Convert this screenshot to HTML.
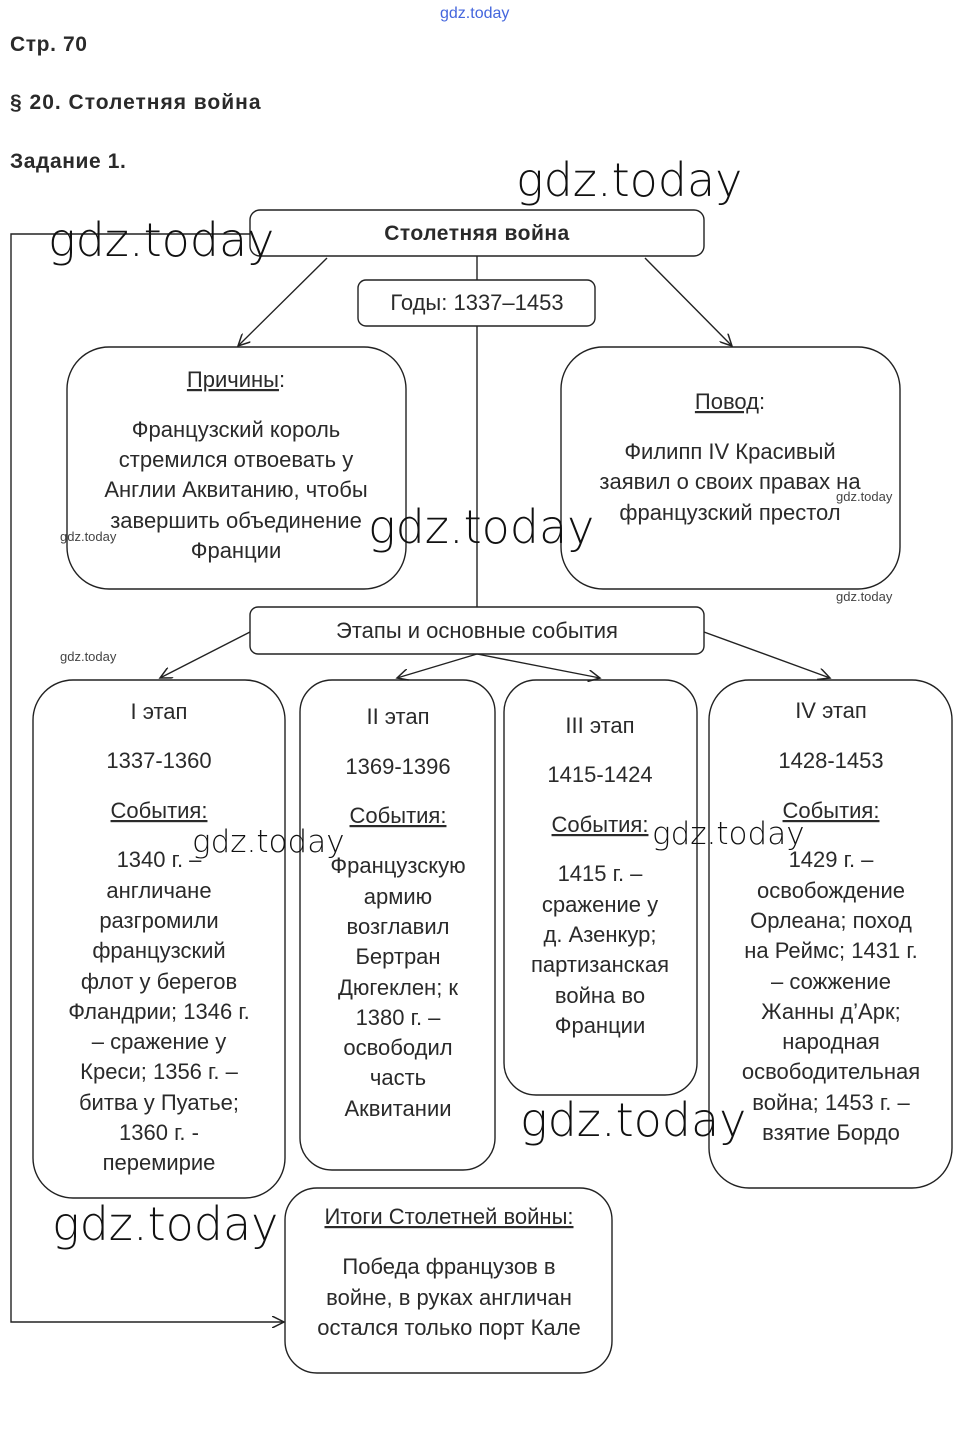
<!DOCTYPE html>
<html><head><meta charset="utf-8"><style>
html,body{margin:0;padding:0;background:#fff;}
svg{display:block;}
text{font-family:"Liberation Sans",Arial,sans-serif;fill:#2a2a2a;}
.t{font-size:22px;text-anchor:middle;}
.u{text-decoration:underline;}
.w{font-size:46px;fill:#111;font-family:"DejaVu Sans","Liberation Sans",sans-serif;font-weight:200;}
.ws{font-size:13px;fill:#444;}
</style></head><body>
<svg width="961" height="1433" viewBox="0 0 961 1433" xmlns="http://www.w3.org/2000/svg">
<defs><marker id="a" markerWidth="14" markerHeight="12" refX="12" refY="6" orient="auto" markerUnits="userSpaceOnUse"><path d="M0,0 L12,6 L0,12" fill="none" stroke="#222" stroke-width="1.5"/></marker></defs>
<text x="440" y="18" style="font-size:16px;fill:#4466dd">gdz.today</text>
<text x="10" y="51" style="font-size:21px;font-weight:bold;letter-spacing:0.6px">Стр. 70</text>
<text x="10" y="109" style="font-size:21px;font-weight:bold;letter-spacing:1px">§ 20. Столетняя война</text>
<text x="10" y="168" style="font-size:21px;font-weight:bold;letter-spacing:0.6px">Задание 1.</text>
<g fill="none" stroke="#222" stroke-width="1.4">
<rect x="250" y="210" width="454" height="46" rx="10"/>
<rect x="358" y="280" width="237" height="46" rx="8"/>
<line x1="477" y1="256" x2="477" y2="280"/><line x1="477" y1="326" x2="477" y2="607"/>
<rect x="67" y="347" width="339" height="242" rx="42"/>
<rect x="561" y="347" width="339" height="242" rx="42"/>
<rect x="250" y="607" width="454" height="47" rx="8"/>
<rect x="33" y="680" width="252" height="518" rx="40"/>
<rect x="300" y="680" width="195" height="490" rx="32"/>
<rect x="504" y="680" width="193" height="415" rx="32"/>
<rect x="709" y="680" width="243" height="508" rx="40"/>
<rect x="285" y="1188" width="327" height="185" rx="32"/>
<line x1="327" y1="258" x2="238" y2="346" marker-end="url(#a)"/>
<line x1="645" y1="258" x2="732" y2="346" marker-end="url(#a)"/>
<line x1="250" y1="632" x2="160" y2="678" marker-end="url(#a)"/>
<line x1="477" y1="654" x2="397" y2="678" marker-end="url(#a)"/>
<line x1="477" y1="654" x2="600" y2="678" marker-end="url(#a)"/>
<line x1="704" y1="632" x2="830" y2="678" marker-end="url(#a)"/>
<polyline points="250,234 11,234 11,1322 284,1322" marker-end="url(#a)"/>
</g>
<text x="477" y="240" class="t" style="font-weight:bold;font-size:21px;letter-spacing:0.5px">Столетняя война</text>
<text x="477" y="310" class="t">Годы: 1337–1453</text>
<g class="t">
<text x="236" y="387"><tspan class="u">Причины</tspan>:</text>
<text x="236" y="437">Французский король</text>
<text x="236" y="467">стремился отвоевать у</text>
<text x="236" y="497">Англии Аквитанию, чтобы</text>
<text x="236" y="528">завершить объединение</text>
<text x="236" y="558">Франции</text>
<text x="730" y="409"><tspan class="u">Повод</tspan>:</text>
<text x="730" y="459">Филипп IV Красивый</text>
<text x="730" y="489">заявил о своих правах на</text>
<text x="730" y="520">французский престол</text>
<text x="477" y="638">Этапы и основные события</text>
</g>
<g class="t">
<text x="159" y="719">I этап</text><text x="159" y="768">1337-1360</text><text x="159" y="818" class="u">События:</text>
<text x="159" y="867">1340 г. –</text><text x="159" y="898">англичане</text><text x="159" y="928">разгромили</text><text x="159" y="958">французский</text><text x="159" y="989">флот у берегов</text><text x="159" y="1019">Фландрии; 1346 г.</text><text x="159" y="1049">– сражение у</text><text x="159" y="1079">Креси; 1356 г. –</text><text x="159" y="1110">битва у Пуатье;</text><text x="159" y="1140">1360 г. -</text><text x="159" y="1170">перемирие</text>
</g>
<g class="t">
<text x="398" y="724">II этап</text><text x="398" y="774">1369-1396</text><text x="398" y="823" class="u">События:</text>
<text x="398" y="873">Французскую</text><text x="398" y="904">армию</text><text x="398" y="934">возглавил</text><text x="398" y="964">Бертран</text><text x="398" y="995">Дюгеклен; к</text><text x="398" y="1025">1380 г. –</text><text x="398" y="1055">освободил</text><text x="398" y="1085">часть</text><text x="398" y="1116">Аквитании</text>
</g>
<g class="t">
<text x="600" y="733">III этап</text><text x="600" y="782">1415-1424</text><text x="600" y="832" class="u">События:</text>
<text x="600" y="881">1415 г. –</text><text x="600" y="912">сражение у</text><text x="600" y="942">д. Азенкур;</text><text x="600" y="972">партизанская</text><text x="600" y="1003">война во</text><text x="600" y="1033">Франции</text>
</g>
<g class="t">
<text x="831" y="718">IV этап</text><text x="831" y="768">1428-1453</text><text x="831" y="818" class="u">События:</text>
<text x="831" y="867">1429 г. –</text><text x="831" y="898">освобождение</text><text x="831" y="928">Орлеана; поход</text><text x="831" y="958">на Реймс; 1431 г.</text><text x="831" y="989">– сожжение</text><text x="831" y="1019">Жанны д’Арк;</text><text x="831" y="1049">народная</text><text x="831" y="1079">освободительная</text><text x="831" y="1110">война; 1453 г. –</text><text x="831" y="1140">взятие Бордо</text>
</g>
<g class="t">
<text x="449" y="1224" class="u">Итоги Столетней войны:</text>
<text x="449" y="1274">Победа французов в</text><text x="449" y="1305">войне, в руках англичан</text><text x="449" y="1335">остался только порт Кале</text>
</g>
<text x="516" y="196" class="w">gdz.today</text>
<text x="48" y="256" class="w">gdz.today</text>
<text x="368" y="543" class="w">gdz.today</text>
<text x="192" y="852" style="font-size:31px" class="w">gdz.today</text>
<text x="652" y="844" style="font-size:31px" class="w">gdz.today</text>
<text x="520" y="1136" class="w">gdz.today</text>
<text x="52" y="1240" class="w">gdz.today</text>
<text x="60" y="541" class="ws">gdz.today</text>
<text x="60" y="661" class="ws">gdz.today</text>
<text x="836" y="501" class="ws">gdz.today</text>
<text x="836" y="601" class="ws">gdz.today</text>
</svg>
</body></html>
